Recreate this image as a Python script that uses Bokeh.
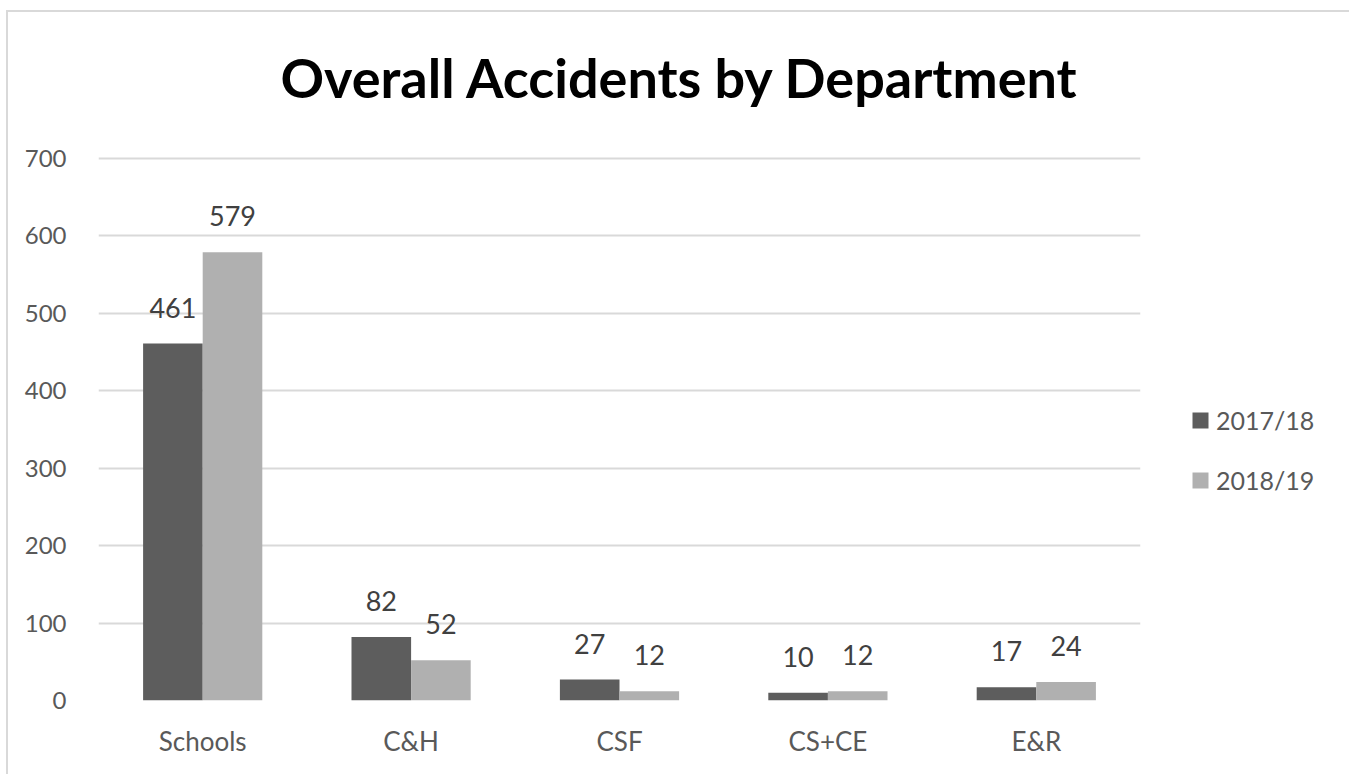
from bokeh.plotting import figure
from bokeh.models import FactorRange, Range1d, Legend, LegendItem, ColumnDataSource, FixedTicker, Title
from bokeh.transform import dodge
from bokeh.core.properties import value
from bokeh.embed import file_html
from bokeh.resources import INLINE

categories = ["Schools", "C&H", "CSF", "CS+CE", "E&R"]
series_names = ["2017/18", "2018/19"]
values_1718 = [461, 82, 27, 10, 17]
values_1819 = [579, 52, 12, 12, 24]
y_ticks = [0, 100, 200, 300, 400, 500, 600, 700]

FONT = "Lato"
DARK = "#5d5d5d"
LIGHT = "#b0b0b0"
GRID = "#d9d9d9"

src = ColumnDataSource(dict(
    cat=categories,
    v1=values_1718,
    v2=values_1819,
    t1=[str(v) for v in values_1718],
    t2=[str(v) for v in values_1819],
))

p = figure(
    x_range=FactorRange(*categories, range_padding=0.0),
    y_range=Range1d(0, 703.9),
    width=1337, height=762,
    output_backend="svg", toolbar_location=None,
    min_border_left=90, min_border_right=205, min_border_top=143, min_border_bottom=74,
    frame_width=1042, frame_height=545,
)
p.styles = {"border": "2px solid #d9d9d9", "border-bottom": "none",
            "margin": "10px 0px 0px 6px"}
p.outline_line_color = None
p.background_fill_color = "white"
p.border_fill_color = "white"

bw = 0.286
r1 = p.vbar(x=dodge("cat", -bw / 2, range=p.x_range), top="v1", width=bw, source=src,
            fill_color=DARK, line_color=None)
r2 = p.vbar(x=dodge("cat", bw / 2, range=p.x_range), top="v2", width=bw, source=src,
            fill_color=LIGHT, line_color=None)

p.text(x=dodge("cat", -bw / 2, range=p.x_range), y="v1", text="t1", source=src,
       text_align="center", text_baseline="alphabetic", y_offset=-36,
       text_font=value(FONT), text_font_size="27px", text_color="#404040")
p.text(x=dodge("cat", bw / 2, range=p.x_range), y="v2", text="t2", source=src,
       text_align="center", text_baseline="alphabetic", y_offset=-36,
       text_font=value(FONT), text_font_size="27px", text_color="#404040")

# axes
p.xaxis.axis_line_color = None
p.xaxis.major_tick_line_color = None
p.xaxis.minor_tick_line_color = None
p.xaxis.major_label_standoff = 18
p.xaxis.major_label_text_font = FONT
p.xaxis.major_label_text_font_size = "26px"
p.xaxis.major_label_text_color = "#595959"

p.yaxis.axis_line_color = None
p.yaxis.major_tick_line_color = None
p.yaxis.minor_tick_line_color = None
p.yaxis.ticker = FixedTicker(ticks=y_ticks)
p.yaxis.major_label_standoff = 26
p.yaxis.major_label_text_font = FONT
p.yaxis.major_label_text_font_size = "24px"
p.yaxis.major_label_text_color = "#595959"

p.xgrid.grid_line_color = None
p.ygrid.ticker = FixedTicker(ticks=y_ticks)
p.ygrid.grid_line_color = GRID
p.ygrid.grid_line_width = 2

# spacer between frame and title, then the title itself (top-aligned)
p.add_layout(Title(text=" ", text_font_size="1px", standoff=9), "above")
p.add_layout(Title(text="Overall Accidents by Department", align="left", offset=182,
                   vertical_align="top",
                   text_font=FONT, text_font_style="bold", text_font_size="54px",
                   text_color="black", standoff=64), "above")

legend = Legend(items=[LegendItem(label=series_names[0], renderers=[r1]),
                       LegendItem(label=series_names[1], renderers=[r2])],
                location=(50, 204), orientation="vertical",
                glyph_width=20, glyph_height=20, label_standoff=6, spacing=28,
                label_height=32,
                padding=0, margin=0, border_line_color=None, background_fill_alpha=0,
                label_text_font=FONT, label_text_font_size="25px", label_text_color="#595959")
p.add_layout(legend, "right")

open("out.html", "w").write(file_html(p, INLINE))
